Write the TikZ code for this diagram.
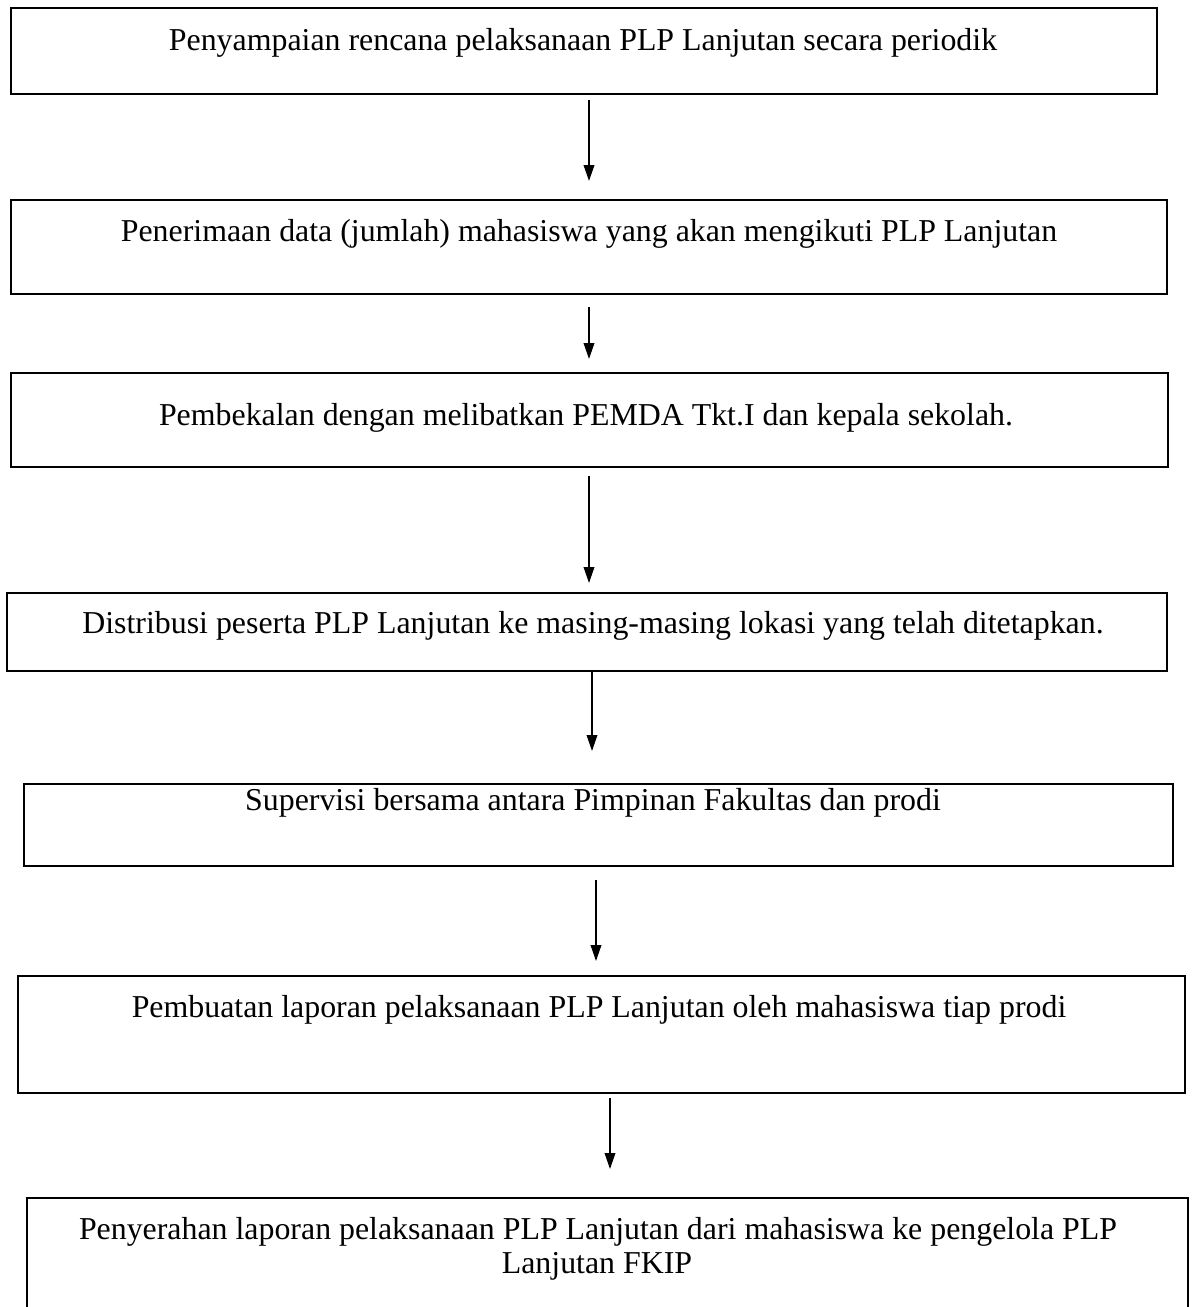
\documentclass[tikz,border=0pt]{standalone}
\usepackage{fontspec}
\setmainfont{Liberation Serif}
\usetikzlibrary{arrows.meta}
\begin{document}
\begin{tikzpicture}[x=0.75pt,y=-0.75pt,
  box/.style={draw=black,line width=1.5pt,minimum width=#1,inner sep=0pt},
  lbl/.style={anchor=base,inner sep=0pt,font=\fontsize{23.9pt}{32pt}\selectfont},
  flow/.style={line width=1.1pt,-{Triangle[width=8pt,length=12pt]}}]
\useasboundingbox (0,0) rectangle (1197,1307);
\fill[white] (0,0) rectangle (1197,1307);
\clip (0,0) rectangle (1197,1307);
% boxes
\node[box=859.5pt,minimum height=64.5pt] (b1) at (584,51) {};
\node[box=867pt,minimum height=70.5pt] (b2) at (589,247) {};
\node[box=867.75pt,minimum height=70.5pt] (b3) at (589.5,420) {};
\node[box=870pt,minimum height=58.5pt] (b4) at (587,632) {};
\node[box=861.75pt,minimum height=61.5pt] (b5) at (598.5,825) {};
\node[box=875.25pt,minimum height=87.75pt] (b6) at (601.5,1034.5) {};
\draw[line width=1.5pt] (27,1330) -- (27,1198) coordinate (b7a) -- (1188,1198) coordinate (b7b) -- (1188,1330);
% texts
\node[lbl] (t1) at (583,50) {Penyampaian rencana pelaksanaan PLP Lanjutan secara periodik};
\node[lbl] (t2) at (589,241) {Penerimaan data (jumlah) mahasiswa yang akan mengikuti PLP Lanjutan};
\node[lbl] (t3) at (586,425) {Pembekalan dengan melibatkan PEMDA Tkt.I dan kepala sekolah.};
\node[lbl] (t4) at (593,633) {Distribusi peserta PLP Lanjutan ke masing-masing lokasi yang telah ditetapkan.};
\node[lbl] (t5) at (593,810) {Supervisi bersama antara Pimpinan Fakultas dan prodi};
\node[lbl] (t6) at (599,1017) {Pembuatan laporan pelaksanaan PLP Lanjutan oleh mahasiswa tiap prodi};
\node[lbl] (t7) at (598,1239) {Penyerahan laporan pelaksanaan PLP Lanjutan dari mahasiswa ke pengelola PLP};
\node[lbl] (t8) at (597,1273) {Lanjutan FKIP};
% arrow coordinates
\coordinate (a1s) at (589,100); \coordinate (a1e) at (589,181);
\coordinate (a2s) at (589,307); \coordinate (a2e) at (589,359);
\coordinate (a3s) at (589,476); \coordinate (a3e) at (589,583);
\coordinate (a4s) at (592,672); \coordinate (a4e) at (592,751);
\coordinate (a5s) at (596,880); \coordinate (a5e) at (596,961);
\coordinate (a6s) at (610,1098); \coordinate (a6e) at (610,1169);
\draw[flow] (a1s) -- (a1e);
\draw[flow] (a2s) -- (a2e);
\draw[flow] (a3s) -- (a3e);
\draw[flow] (a4s) -- (a4e);
\draw[flow] (a5s) -- (a5e);
\draw[flow] (a6s) -- (a6e);
\end{tikzpicture}
\end{document}
